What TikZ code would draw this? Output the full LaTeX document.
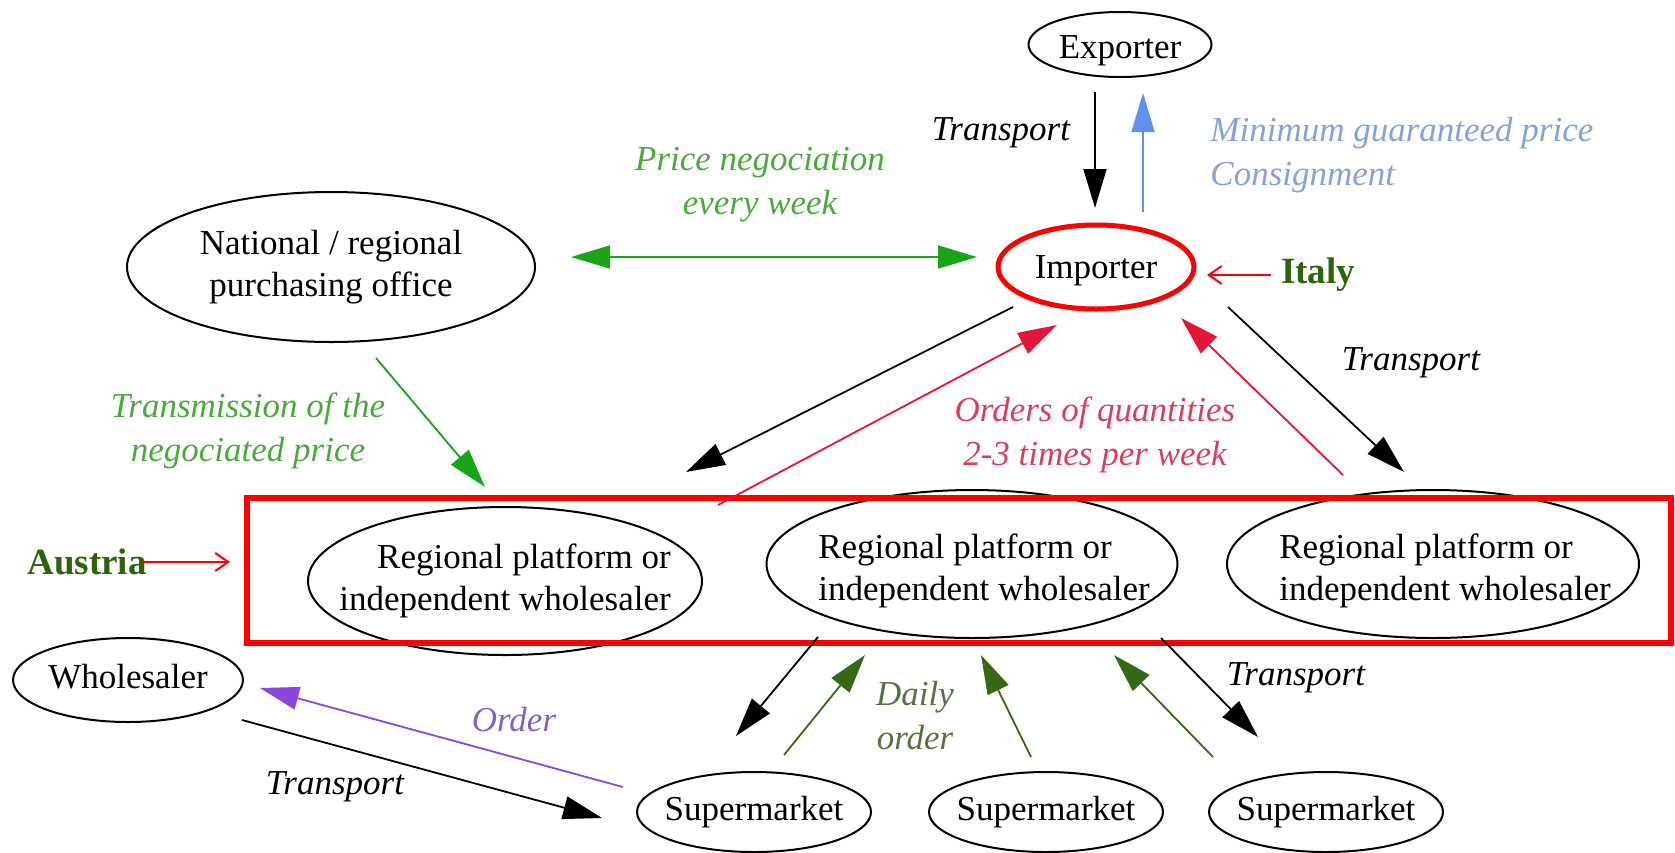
\documentclass[tikz,border=0pt]{standalone}
\usepackage{fontspec}
\setmainfont{Liberation Serif}
\usepackage{tikz}
\usetikzlibrary{arrows.meta,shapes.geometric}

\definecolor{NegGreen}{RGB}{25,165,25}
\definecolor{NegText}{RGB}{75,170,60}
\definecolor{PriceBlue}{RGB}{95,145,240}
\definecolor{PriceText}{RGB}{135,160,225}
\definecolor{OrdRed}{RGB}{230,20,55}
\definecolor{OrdText}{RGB}{220,60,95}
\definecolor{DayGreen}{RGB}{55,105,20}
\definecolor{DayText}{RGB}{85,115,65}
\definecolor{OrdPurple}{RGB}{140,70,225}
\definecolor{PurpText}{RGB}{130,95,210}
\definecolor{Country}{RGB}{45,100,10}

\newcommand{\ovaltxt}[2][c]{\makebox[0pt]{\smash{\raisebox{-0.25em}{\begin{tabular}{@{}#1@{}}#2\end{tabular}}}}}

\tikzset{
    every node/.style={font=\fontsize{17.5}{21}\selectfont},
    >={Triangle[length=19.5pt,width=11.5pt]},
    actor/.style={ellipse, draw, line width=1pt, inner sep=0pt},
    tip/.style={->, line width=0.9pt},
    lbl/.style={font=\fontsize{17.5}{22}\selectfont\itshape, align=center, inner sep=0pt},
    country/.style={font=\fontsize{18.5}{22}\selectfont\bfseries, text=Country, inner sep=0pt},
    pointer/.style={red, line width=1pt, -{Straight Barb[length=6.5pt,width=9pt]}}
}

\begin{document}
\begin{tikzpicture}[x=0.5pt, y=-0.5pt]
    \useasboundingbox (0,0) rectangle (1675,852);

    \node[actor, minimum width=91.5, minimum height=32.5] (exp) at (1120,44.5) {\smash{\raisebox{-2.5pt}{\ovaltxt{Exporter}}}};
    \node[actor, draw=red, line width=2.5pt, minimum width=98, minimum height=42] (imp) at (1096,267) {\smash{\raisebox{-1.5pt}{\ovaltxt{Importer}}}};
    \node[actor, minimum width=204, minimum height=75] (nat) at (331,267) {\ovaltxt{National / regional\\purchasing office}};
    \node[actor, minimum width=197, minimum height=74] (pf1) at (505,581) {\ovaltxt[r]{Regional platform or\\independent wholesaler}};
    \node[actor, minimum width=205.5, minimum height=74] (pf2) at (972,564) {\hspace*{12pt}\smash{\raisebox{-3.5pt}{\ovaltxt[l]{Regional platform or\\independent wholesaler}}}};
    \node[actor, minimum width=206, minimum height=74] (pf3) at (1433,564) {\hspace*{12pt}\smash{\raisebox{-3.5pt}{\ovaltxt[l]{Regional platform or\\independent wholesaler}}}};
    \node[actor, minimum width=115, minimum height=42] (whs) at (128,680) {\ovaltxt{Wholesaler}};
    \node[actor, minimum width=117, minimum height=40] (sm1) at (754,812) {\ovaltxt{Supermarket}};
    \node[actor, minimum width=117, minimum height=40] (sm2) at (1046,812) {\ovaltxt{Supermarket}};
    \node[actor, minimum width=117, minimum height=40] (sm3) at (1326,812) {\ovaltxt{Supermarket}};

    \node[draw=red, line width=3pt, inner sep=0pt, minimum width=712, minimum height=72.5] (atbox) at (959,570.5) {};

    \node[lbl] (trA) at (1001,133) {Transport};
    \node[lbl, text=PriceText, align=left, anchor=west] (mgp) at (1210,155) {Minimum guaranteed price\\Consignment};
    \node[lbl, text=NegText] (neg) at (760,185) {Price negociation\\every week};
    \node[lbl, text=NegText] (tnp) at (248,431) {Transmission of the\\negociated price};
    \node[lbl, text=OrdText] (ooq) at (1095,435) {Orders of quantities\\2-3 times per week};
    \node[lbl] (trB) at (1411,363) {Transport};
    \node[lbl, text=DayText] (dly) at (915,716) {Daily\\order};
    \node[lbl] (trC) at (1296,678) {Transport};
    \node[lbl, text=PurpText] (ord) at (514,720) {Order};
    \node[lbl] (trD) at (335,787) {Transport};
    \node[country] (ita) at (1318,275) {Italy};
    \node[country] (aut) at (87,562) {Austria};

    \coordinate (c1) at (1095,92);   \coordinate (c2) at (1095,208);
    \coordinate (c3) at (1143,212);  \coordinate (c4) at (1143,93);
    \coordinate (c5) at (571,257);   \coordinate (c6) at (977,257);
    \coordinate (c7) at (376,358);   \coordinate (c8) at (485,487);
    \coordinate (c9) at (1013,307);  \coordinate (c10) at (686,472);
    \coordinate (c11) at (718,505);  \coordinate (c12) at (1057,325);
    \coordinate (c13) at (1343,475); \coordinate (c14) at (1181,318);
    \coordinate (c15) at (1228,307); \coordinate (c16) at (1404,472);
    \coordinate (c17) at (818,637);  \coordinate (c18) at (736,736);
    \coordinate (c19) at (784,755);  \coordinate (c20) at (865,655);
    \coordinate (c21) at (1031,757); \coordinate (c22) at (981,655);
    \coordinate (c23) at (1213,757); \coordinate (c24) at (1114,655);
    \coordinate (c25) at (1161,638); \coordinate (c26) at (1258,737);
    \coordinate (c27) at (623,787);  \coordinate (c28) at (260,688);
    \coordinate (c29) at (242,720);  \coordinate (c30) at (602,818);

    \draw[tip] (c1) -- (c2);
    \draw[tip, PriceBlue] (c3) -- (c4);
    \draw[tip, <->, NegGreen] (c5) -- (c6);
    \draw[tip, NegGreen] (c7) -- (c8);
    \draw[tip] (c9) -- (c10);
    \draw[tip, OrdRed] (c11) -- (c12);
    \draw[tip, OrdRed] (c13) -- (c14);
    \draw[tip] (c15) -- (c16);
    \draw[tip] (c17) -- (c18);
    \draw[tip, DayGreen] (c19) -- (c20);
    \draw[tip, DayGreen] (c21) -- (c22);
    \draw[tip, DayGreen] (c23) -- (c24);
    \draw[tip] (c25) -- (c26);
    \draw[tip, OrdPurple] (c27) -- (c28);
    \draw[tip] (c29) -- (c30);

    \draw[pointer, shorten <=5pt, shorten >=5.25pt] (ita.west) -- (ita.west -| imp.east);
    \draw[pointer, shorten <=-2.5pt, shorten >=7pt] (aut.east) -- (aut.east -| atbox.west);
\end{tikzpicture}
\end{document}
